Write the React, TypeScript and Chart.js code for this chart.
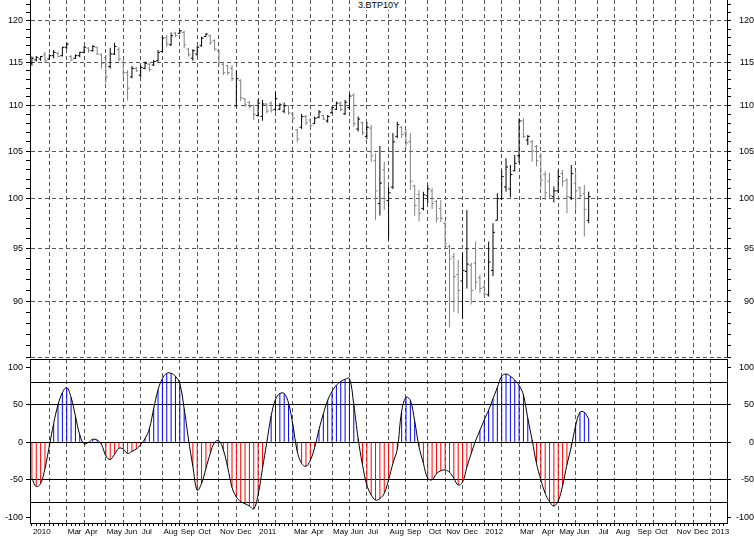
import React, { useEffect, useRef } from 'react';
import { Chart, registerables } from 'chart.js';

Chart.register(...registerables);

const TITLE = '3.BTP10Y';

// weekly OHLC bars, week 0 = first week of Jan 2010
const OPEN = [
  114.9, 115.3, 115.4, 115.9, 115.4, 115.8, 116.1, 115.8, 116.8, 115.7,
  115.5, 115.8, 116.2, 116.7, 116.4, 116.8, 115.9, 115.6, 114.5, 116.0,
  116.5, 115.0, 113.8, 113.3, 114.3, 113.5, 114.3, 114.8, 114.7, 115.2,
  116.3, 118.0, 117.1, 118.5, 118.5, 118.6, 116.6, 115.5, 116.0, 117.0,
  118.1, 118.2, 117.6, 116.4, 114.8, 114.6, 114.3, 110.0, 112.9, 110.8,
  110.4, 110.0, 108.9, 108.8, 110.2, 110.3, 109.6, 109.6, 109.4, 110.0,
  109.1, 107.3, 107.6, 108.8, 108.4, 108.0, 108.7, 108.9, 108.3, 109.2,
  109.6, 110.3, 109.1, 109.8, 111.2, 107.4, 108.1, 106.6, 107.5, 104.0,
  99.5, 103.0, 99.8, 101.2, 106.6, 107.6, 107.0, 106.0, 101.3, 100.4,
  99.0, 100.3, 100.8, 99.7, 99.0, 97.5, 95.2, 94.2, 92.5, 91.9,
  92.8, 93.4, 93.6, 92.2, 91.3, 90.6, 92.9, 97.8, 100.0, 101.2,
  101.0, 102.9, 104.5, 108.3, 106.2, 106.0, 105.5, 104.4, 102.5, 101.8,
  100.2, 100.8, 102.6, 101.9, 100.1, 101.6, 101.1, 100.5, 97.8,
];
const HIGH = [
  115.7, 115.77, 115.77, 116.24, 115.97, 116.48, 116.28, 116.88, 117.36, 115.88,
  115.97, 116.28, 116.96, 116.8, 117.08, 116.88, 116.08, 115.88, 116.76, 117.36,
  116.8, 115.29, 114.12, 114.59, 114.5, 114.7, 115.1, 114.9, 115.29, 116.48,
  118.17, 118.29, 118.6, 118.67, 118.9, 118.8, 116.7, 116.56, 116.96, 118.08,
  118.5, 118.29, 117.77, 116.48, 114.9, 114.7, 114.7, 114.05, 113.04, 110.85,
  110.47, 110.09, 110.73, 110.66, 110.29, 110.47, 111.6, 110.29, 110.36, 110.09,
  109.16, 107.41, 109.08, 108.97, 108.6, 108.78, 109.53, 108.97, 108.97, 109.9,
  110.47, 110.47, 110.66, 111.42, 111.42, 108.78, 108.22, 108.22, 107.85, 104.77,
  105.56, 103.87, 101.24, 106.97, 108.22, 107.74, 107.3, 106.97, 101.42, 100.9,
  100.72, 101.42, 101.1, 99.87, 99.87, 97.67, 95.37, 94.6, 93.9, 94.6,
  98.85, 93.63, 95.7, 92.49, 91.76, 95.7, 97.5, 100.56, 102.95, 104.24,
  103.52, 104.59, 108.6, 108.6, 106.75, 106.21, 105.67, 104.77, 102.85, 102.68,
  101.24, 102.99, 102.99, 102.12, 103.52, 102.85, 101.24, 101.42, 100.72,
];
const LOW = [
  114.6, 115.1, 115.2, 114.94, 115.29, 115.5, 115.62, 115.7, 116.6, 115.1,
  115.41, 115.62, 116.1, 116.16, 116.28, 115.88, 114.3, 112.6, 114.3, 115.88,
  115.1, 113.3, 110.6, 113.15, 113.9, 113.27, 114.2, 113.9, 114.59, 115.1,
  116.16, 116.88, 116.96, 118.0, 118.4, 116.7, 115.7, 115.2, 115.77, 116.88,
  118.08, 117.08, 116.4, 114.7, 113.54, 113.54, 112.8, 109.9, 110.5, 109.9,
  109.72, 108.41, 108.78, 108.33, 109.16, 109.23, 109.34, 109.53, 109.16, 108.97,
  108.41, 105.96, 107.4, 107.85, 107.5, 107.96, 108.6, 108.41, 108.1, 109.16,
  109.53, 109.34, 108.97, 109.53, 107.66, 107.12, 106.75, 106.3, 103.8, 97.84,
  98.28, 98.85, 95.9, 101.0, 106.4, 106.4, 105.5, 100.9, 98.25, 97.7,
  98.78, 99.56, 98.95, 97.57, 97.64, 95.08, 87.64, 89.0, 88.9, 88.4,
  91.2, 89.7, 91.07, 90.77, 90.45, 90.45, 92.34, 97.77, 99.87, 100.72,
  100.15, 102.85, 103.7, 106.4, 105.67, 103.87, 103.35, 101.07, 99.87, 100.04,
  99.6, 100.56, 101.24, 98.52, 99.87, 98.85, 100.04, 96.2, 97.5,
];
const CLOSE = [
  115.5, 115.6, 115.7, 115.2, 115.8, 116.2, 115.7, 116.8, 117.2, 115.3,
  115.8, 116.2, 116.8, 116.4, 116.9, 116.0, 114.9, 113.3, 116.0, 116.9,
  115.4, 113.8, 112.0, 114.3, 114.0, 114.4, 114.9, 114.2, 115.1, 116.2,
  117.9, 117.2, 118.2, 118.2, 118.8, 117.1, 115.9, 116.4, 116.8, 117.9,
  118.4, 117.4, 116.6, 115.0, 113.8, 113.8, 113.1, 113.1, 110.9, 110.1,
  109.9, 109.0, 110.3, 110.2, 109.4, 109.5, 110.8, 110.1, 110.0, 109.2,
  108.6, 106.3, 108.8, 108.1, 107.8, 108.6, 109.3, 108.5, 108.8, 109.8,
  110.3, 109.6, 110.4, 111.1, 108.0, 108.5, 107.0, 107.6, 104.5, 100.8,
  101.6, 100.0, 100.6, 106.0, 107.9, 106.8, 105.9, 101.8, 99.3, 98.5,
  100.4, 101.0, 99.5, 98.0, 98.0, 95.5, 94.0, 92.3, 91.0, 92.9,
  93.5, 91.0, 91.8, 91.2, 90.7, 93.7, 96.6, 100.0, 102.3, 103.3,
  102.5, 103.7, 108.3, 106.6, 106.6, 105.0, 104.0, 101.9, 100.6, 100.3,
  100.8, 102.3, 101.8, 100.2, 102.6, 100.8, 100.3, 98.9, 100.2,
];

// oscillator, one value per week
const OSC = [
  -48, -59, -55, -35, -5, 25, 50, 66, 73, 60,
  35, 10, -2, 0, 4, 3, -3, -18, -23, -16,
  -8, -9, -15, -12, -9, -3, 5, 18, 45, 70,
  85, 92, 92, 88, 78, 45, 4, -32, -64, -55,
  -35, -15, 0, 2, -10, -33, -60, -73, -79, -82,
  -85, -89, -70, -35, 0, 35, 57, 65, 65, 52,
  23, -12, -28, -32, -24, -7, 17, 38, 56, 68,
  76, 81, 84, 85, 50, 5, -30, -57, -70, -77,
  -75, -68, -50, -28, -9, 41, 60, 56, 28, -6,
  -28, -48, -50, -42, -38, -37, -40, -48, -57, -53,
  -33, -15, 2, 16, 30, 43, 58, 73, 88, 91,
  88, 83, 76, 63, 32, 3, -28, -50, -68, -79,
  -85, -78, -58, -30, -6, 22, 40, 40, 31,
];

const MONTH_TICKS = [
  0, 4, 8, 12, 17, 21, 25, 30, 34, 38, 43, 47,
  52, 56, 60, 64, 69, 73, 77, 82, 86, 91, 95, 99,
  104, 108, 112, 117, 121, 125, 130, 134, 139, 143, 148, 152,
  156,
];
const MONTH_LABELS = [
  '2010', '', 'Mar', 'Apr', 'May', 'Jun', 'Jul', 'Aug', 'Sep', 'Oct', 'Nov', 'Dec',
  '2011', '', 'Mar', 'Apr', 'May', 'Jun', 'Jul', 'Aug', 'Sep', 'Oct', 'Nov', 'Dec',
  '2012', '', 'Mar', 'Apr', 'May', 'Jun', 'Jul', 'Aug', 'Sep', 'Oct', 'Nov', 'Dec',
  '2013',
];
const PRICE_LABELS = [90, 95, 100, 105, 110, 115, 120];
const OSC_LABELS = [-100, -50, 0, 50, 100];
const OSC_LEVELS = [-80, -50, 0, 50, 80];

const X_MIN = -0.44;
const X_MAX = 159.8;
const P_MIN = 85;
const P_MAX = 122.61;
const O_MIN = -107.6;
const O_MAX = 111.07;

const GRID = '#555555';
const DASH = [4, 3];
const CLEAR = 'rgba(0,0,0,0)';
const FAMILY = '"Liberation Sans", Arial, sans-serif';

const barColor = (i: number) => (CLOSE[i] >= OPEN[i] ? '#000000' : '#808080');
const isGridMonth = (v: number) => v !== 0 && MONTH_TICKS.indexOf(v) >= 0;

function priceTickValues() {
  const t: { value: number }[] = [];
  for (let v = 85; v <= 122; v++) t.push({ value: v });
  return t;
}
function weekTickValues() {
  const t: { value: number }[] = [];
  for (let v = 0; v <= 159; v++) t.push({ value: v });
  return t;
}

function topConfig(): any {
  const priceAxis = (position: 'left' | 'right') => ({
    type: 'logarithmic',
    position,
    min: P_MIN,
    max: P_MAX,
    bounds: 'data',
    afterBuildTicks: (s: any) => {
      s.ticks = priceTickValues();
    },
    afterFit: (s: any) => {
      s.width = position === 'left' ? 30 : 27;
      s.paddingTop = 0;
      s.paddingBottom = 0;
    },
    ticks: {
      autoSkip: false,
      padding: position === 'left' ? 3 : 6,
      crossAlign: position === 'left' ? 'near' : 'far',
      color: '#000',
      font: { family: FAMILY, size: 9 },
      callback: (v: number) => (PRICE_LABELS.indexOf(v) >= 0 ? String(v) : ''),
    },
    grid: {
      drawOnChartArea: position === 'left',
      color: (c: any) => (c.tick && c.tick.value % 5 === 0 ? GRID : CLEAR),
      tickColor: '#000',
      tickLength: 4,
      lineWidth: 1,
    },
    border: { display: true, color: '#000', width: 1, dash: DASH },
  });

  return {
    type: 'scatter',
    data: {
      datasets: [
        {
          type: 'bar',
          data: OPEN.map((_, i) => ({ x: i, y: [LOW[i], HIGH[i]] })),
          backgroundColor: OPEN.map((_, i) => barColor(i)),
          barThickness: 1,
          maxBarThickness: 1,
          inflateAmount: 0,
          borderWidth: 0,
          xAxisID: 'x',
          yAxisID: 'y',
        },
        {
          type: 'scatter',
          data: OPEN.map((v, i) => ({ x: i, y: v })),
          pointStyle: 'dash',
          pointRadius: 2,
          pointRotation: 180,
          pointBorderWidth: 1,
          pointBorderColor: OPEN.map((_, i) => barColor(i)),
          pointBackgroundColor: OPEN.map((_, i) => barColor(i)),
          xAxisID: 'x',
          yAxisID: 'y',
        },
        {
          type: 'scatter',
          data: CLOSE.map((v, i) => ({ x: i, y: v })),
          pointStyle: 'dash',
          pointRadius: 2,
          pointRotation: 0,
          pointBorderWidth: 1,
          pointBorderColor: CLOSE.map((_, i) => barColor(i)),
          pointBackgroundColor: CLOSE.map((_, i) => barColor(i)),
          xAxisID: 'x',
          yAxisID: 'y',
        },
      ],
    },
    options: {
      responsive: false,
      animation: false,
      devicePixelRatio: 1,
      events: [],
      layout: { autoPadding: false, padding: 0 },
      plugins: { legend: { display: false }, tooltip: { enabled: false }, title: { display: false } },
      scales: {
        x: {
          type: 'linear',
          min: X_MIN,
          max: X_MAX,
          bounds: 'data',
          offset: false,
          afterBuildTicks: (s: any) => {
            s.ticks = MONTH_TICKS.filter((v) => v !== 0).map((v) => ({ value: v }));
          },
          afterFit: (s: any) => {
            s.height = 1;
            s.paddingLeft = 0;
            s.paddingRight = 0;
          },
          ticks: { display: false },
          grid: { color: GRID, drawTicks: false, lineWidth: 1, offset: false },
          border: { display: false, dash: DASH },
        },
        y: priceAxis('left'),
        yR: priceAxis('right'),
      },
    },
  };
}

function bottomConfig(): any {
  const oscTicks = [O_MIN, -100, -80, -50, 0, 50, 80, 100, O_MAX];
  const oscAxis = (position: 'left' | 'right') => ({
    type: 'linear',
    position,
    min: O_MIN,
    max: O_MAX,
    bounds: 'data',
    afterBuildTicks: (s: any) => {
      s.ticks = oscTicks.map((v) => ({ value: v }));
    },
    afterFit: (s: any) => {
      s.width = position === 'left' ? 30 : 27;
      s.paddingTop = 0;
      s.paddingBottom = 0;
    },
    ticks: {
      autoSkip: false,
      padding: 3,
      crossAlign: position === 'left' ? 'near' : 'far',
      color: '#000',
      font: { family: FAMILY, size: 9 },
      callback: (v: number) => (OSC_LABELS.indexOf(v) >= 0 ? String(v) : ''),
    },
    grid: {
      drawOnChartArea: position === 'left',
      color: (c: any) =>
        c.tick && (OSC_LEVELS.indexOf(c.tick.value) >= 0 || c.tick.value === O_MAX) ? '#000' : CLEAR,
      tickColor: (c: any) => (c.tick && OSC_LABELS.indexOf(c.tick.value) >= 0 ? '#000' : CLEAR),
      tickLength: 4,
      lineWidth: 1,
    },
    border: { display: true, color: '#000', width: 1 },
  });

  return {
    type: 'scatter',
    data: {
      datasets: [
        {
          type: 'line',
          data: OSC.map((v, i) => ({ x: i, y: v })),
          borderColor: '#000',
          borderWidth: 1,
          pointRadius: 0,
          tension: 0.4,
          showLine: true,
          fill: false,
          order: 0,
          xAxisID: 'x',
          yAxisID: 'y',
        },
        {
          type: 'bar',
          data: OSC.map((v, i) => ({ x: i, y: v })),
          backgroundColor: OSC.map((v) => (v >= 0 ? '#0000ff' : '#ff0000')),
          barThickness: 1,
          maxBarThickness: 1,
          inflateAmount: 0,
          borderWidth: 0,
          order: 1,
          xAxisID: 'x',
          yAxisID: 'y',
        },
      ],
    },
    options: {
      responsive: false,
      animation: false,
      devicePixelRatio: 1,
      events: [],
      layout: { autoPadding: false, padding: { top: 1, left: 0, right: 0, bottom: 0 } },
      plugins: { legend: { display: false }, tooltip: { enabled: false }, title: { display: false } },
      scales: {
        x: {
          type: 'linear',
          min: X_MIN,
          max: X_MAX,
          bounds: 'data',
          offset: false,
          afterBuildTicks: (s: any) => {
            s.ticks = weekTickValues();
          },
          afterFit: (s: any) => {
            s.height = 14;
            s.paddingLeft = 0;
            s.paddingRight = 0;
          },
          ticks: {
            autoSkip: false,
            maxRotation: 0,
            minRotation: 0,
            align: 'start',
            labelOffset: 1,
            padding: 1,
            color: '#000',
            font: { family: FAMILY, size: 8 },
            callback: (v: number) => {
              const k = MONTH_TICKS.indexOf(v);
              return k >= 0 ? MONTH_LABELS[k] : '';
            },
          },
          grid: {
            color: (c: any) => (c.tick && isGridMonth(c.tick.value) ? GRID : CLEAR),
            tickColor: '#000',
            tickLength: 3,
            lineWidth: 1,
            offset: false,
          },
          border: { display: true, color: '#000', width: 1, dash: DASH },
        },
        y: oscAxis('left'),
        yR: oscAxis('right'),
      },
    },
  };
}

export default function App() {
  const topRef = useRef<HTMLCanvasElement>(null);
  const botRef = useRef<HTMLCanvasElement>(null);

  useEffect(() => {
    const top = new Chart(topRef.current as HTMLCanvasElement, topConfig());
    const bot = new Chart(botRef.current as HTMLCanvasElement, bottomConfig());
    return () => {
      top.destroy();
      bot.destroy();
    };
  }, []);

  return (
    <div
      style={{
        position: 'fixed',
        left: 0,
        top: 0,
        width: 754,
        height: 537,
        background: '#fff',
        overflow: 'hidden',
      }}
    >
      <canvas ref={topRef} width={754} height={358} style={{ position: 'absolute', left: 0, top: 0 }} />
      <canvas ref={botRef} width={754} height={179} style={{ position: 'absolute', left: 0, top: 358 }} />
      <div
        style={{
          position: 'absolute',
          left: 0,
          top: 0,
          width: 757,
          textAlign: 'center',
          fontFamily: FAMILY,
          fontSize: 9,
          lineHeight: '11px',
          color: '#000',
        }}
      >
        <span style={{ background: '#fff', padding: '0 1px' }}>{TITLE}</span>
      </div>
    </div>
  );
}
